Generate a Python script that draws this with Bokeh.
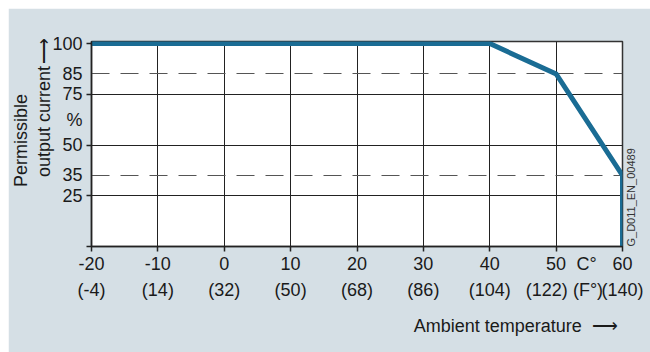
import math
from bokeh.plotting import figure
from bokeh.models import LinearAxis, FixedTicker, Grid, Range1d
from bokeh.embed import file_html
from bokeh.resources import INLINE

# ---- data ----
temp_c = [-20, 40, 50, 60, 60]
current_pct = [100, 100, 85, 35, 0]

c_ticks = [-20, -10, 0, 10, 20, 30, 40, 50, 60]
c_labels = ["-20", "-10", "0", "10", "20", "30", "40", "50", "60"]
f_labels = ["(-4)", "(14)", "(32)", "(50)", "(68)", "(86)", "(104)", "(122)", "(140)"]
f_label_pos = [-20, -10, 0, 10, 20, 30, 40, 48.6, 60]
unit_c_pos, unit_c_text = 54.6, "C°"
unit_f_pos, unit_f_text = 54.8, "(F°)"

grid_pct = [25, 50, 75]
ref_pct = [35, 85]
axis_pct_ticks = [0, 25, 50, 75, 100]
pct_label_pos = [100, 85, 75, 62.5, 50, 35, 25]
pct_labels = ["100", "85", "75", "%", "50", "35", "25"]

x_title = {41.2: "Ambient temperature", 57.4: "\u27f6"}
y_title_inner = {61.6: "output current", 96.3: "\u27f6"}
y_title_outer = {52.2: "Permissible"}
doc_id = {0: "G_D011_EN_00489"}

# ---- style ----
BG = "#d5dfe5"
BLUE = "#1a6c94"
INK = "#1a1a1a"
FONT = "Liberation Sans"
FS = "18px"

p = figure(width=642, height=344, x_range=Range1d(-20, 60), y_range=Range1d(0, 101),
           output_backend="svg", toolbar_location=None,
           x_axis_type=None, y_axis_type=None,
           min_border_left=81, min_border_right=28, min_border_top=33, min_border_bottom=106,
           background_fill_color="white", border_fill_color=BG,
           outline_line_color="#333333", outline_line_width=1.5)
try:
    p.margin = (8, 0, 0, 8)
except Exception:
    pass


def style_axis(ax, size=FS, color=INK):
    ax.major_label_text_font = FONT
    ax.major_label_text_font_size = size
    ax.major_label_text_color = color
    ax.axis_line_color = "#222222"
    ax.axis_line_width = 1.5
    ax.major_tick_out = 0
    ax.major_tick_in = 0
    ax.minor_tick_out = 5
    ax.minor_tick_in = 0
    ax.minor_tick_line_color = "#222222"
    ax.minor_tick_line_width = 1.5


def text_axis(labels, standoff, size=FS, color=INK, orientation=None):
    ax = LinearAxis(ticker=FixedTicker(ticks=list(labels.keys()), minor_ticks=[]))
    ax.major_label_overrides = dict(labels)
    style_axis(ax, size, color)
    ax.axis_line_color = None
    ax.minor_tick_out = 0
    ax.major_label_standoff = standoff
    if orientation is not None:
        ax.major_label_orientation = orientation
    return ax


# Celsius axis
xa = LinearAxis(ticker=FixedTicker(ticks=c_ticks + [unit_c_pos], minor_ticks=c_ticks))
xa.major_label_overrides = {**{t: l for t, l in zip(c_ticks, c_labels)}, unit_c_pos: unit_c_text}
style_axis(xa)
xa.major_label_standoff = 2
p.add_layout(xa, "below")

# Fahrenheit axis
fa = text_axis({**{t: l for t, l in zip(f_label_pos, f_labels)}, unit_f_pos: unit_f_text}, 3)
p.add_layout(fa, "below")

# x title
p.add_layout(text_axis(x_title, 13), "below")

# percent axis
ya = LinearAxis(ticker=FixedTicker(ticks=pct_label_pos, minor_ticks=axis_pct_ticks))
ya.major_label_overrides = {t: l for t, l in zip(pct_label_pos, pct_labels)}
style_axis(ya)
ya.major_label_standoff = 4
p.add_layout(ya, "left")

# y titles
p.add_layout(text_axis(y_title_inner, -5, orientation="vertical"), "left")
p.add_layout(text_axis(y_title_outer, 0, orientation="vertical"), "left")

# document id on the right, reading upwards
p.add_layout(text_axis(doc_id, 8, size="11px", color="#333333", orientation=math.pi / 2), "right")

# grids
p.add_layout(Grid(dimension=0, ticker=FixedTicker(ticks=c_ticks[1:-1]),
                  grid_line_color="#222222", grid_line_width=1))
p.add_layout(Grid(dimension=1, ticker=FixedTicker(ticks=grid_pct),
                  grid_line_color="#222222", grid_line_width=1))
p.add_layout(Grid(dimension=1, ticker=FixedTicker(ticks=ref_pct),
                  grid_line_color="#555555", grid_line_width=1, grid_line_dash="18 11"))

# derating curve
p.line(temp_c, current_pct, line_color=BLUE, line_width=5, line_join="miter")

open("out.html", "w").write(file_html(p, INLINE))
